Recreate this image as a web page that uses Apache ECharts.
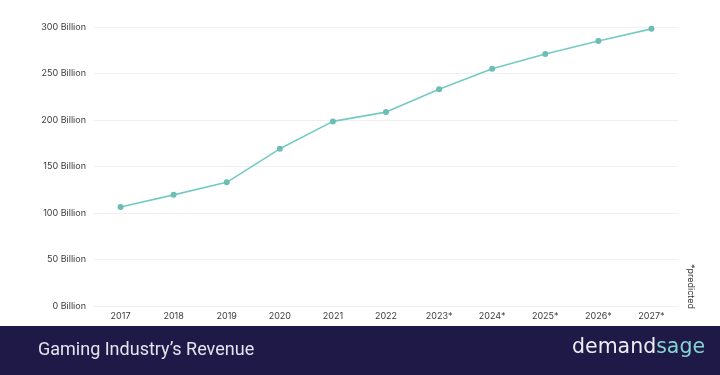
<!DOCTYPE html>
<html>
<head>
<meta charset="utf-8">
<script src="https://cdn.jsdelivr.net/npm/echarts@6/dist/echarts.min.js"></script>
<style>
html,body{margin:0;padding:0;background:#fff;}
#c{width:720px;height:375px;}
</style>
</head>
<body>
<div id="c"></div>
<script>
var categories = ['2017','2018','2019','2020','2021','2022','2023*','2024*','2025*','2026*','2027*'];
var revenue = [106.5, 119.5, 133, 169, 198.5, 208.5, 233, 255, 271, 285, 298];
var yTicks = [0, 50, 100, 150, 200, 250, 300];
var titleText = "Gaming Industry’s Revenue";
var noteText = '*predicted';

var chart = echarts.init(document.getElementById('c'));
chart.setOption({
  animation: false,
  backgroundColor: '#ffffff',
  grid: {left: 94, right: 42, top: 27, bottom: 69},
  xAxis: {
    type: 'category',
    data: categories,
    boundaryGap: true,
    axisLine: {show: false},
    axisTick: {show: false},
    axisLabel: {color: '#3a3a3a', fontSize: 9, fontFamily: 'Inter, sans-serif', margin: 6}
  },
  yAxis: {
    type: 'value',
    min: yTicks[0], max: yTicks[yTicks.length-1], interval: 50,
    axisLine: {show: false},
    axisTick: {show: false},
    splitLine: {lineStyle: {color: '#f0f0f0', width: 1}},
    axisLabel: {color: '#3a3a3a', fontSize: 9, fontFamily: 'Inter, sans-serif', margin: 8,
      formatter: function(v){ return v + ' Billion'; }}
  },
  series: [{
    type: 'line',
    data: revenue,
    symbol: 'circle',
    symbolSize: 6,
    lineStyle: {color: '#74cbc3', width: 1.6},
    itemStyle: {color: '#6cbdb6'}
  }],
  graphic: [
    {type: 'rect', left: 0, top: 326, shape: {width: 720, height: 49}, style: {fill: '#1f1947'}, z: 10},
    {type: 'text', left: 38, top: 341, z: 11, style: {text: titleText, fill: '#e4e4f0', fontSize: 18, fontFamily: 'Roboto, sans-serif'}},
    {type: 'text', left: 572, top: 337, z: 11, style: {
      rich: {a: {fill: '#ececf4', fontSize: 20.5, fontWeight: 500, fontFamily: '"DejaVu Sans", sans-serif'}, b: {fill: '#86d3cf', fontSize: 20.5, fontWeight: 500, fontFamily: '"DejaVu Sans", sans-serif'}},
      text: '{a|demand}{b|sage}'}},
    {type: 'text', x: 691, y: 264, rotation: -Math.PI/2, z: 11, style: {text: noteText, fill: '#333', fontSize: 9, fontFamily: 'Inter, sans-serif', verticalAlign: 'middle', align: 'left'}}
  ]
});
</script>
</body>
</html>
